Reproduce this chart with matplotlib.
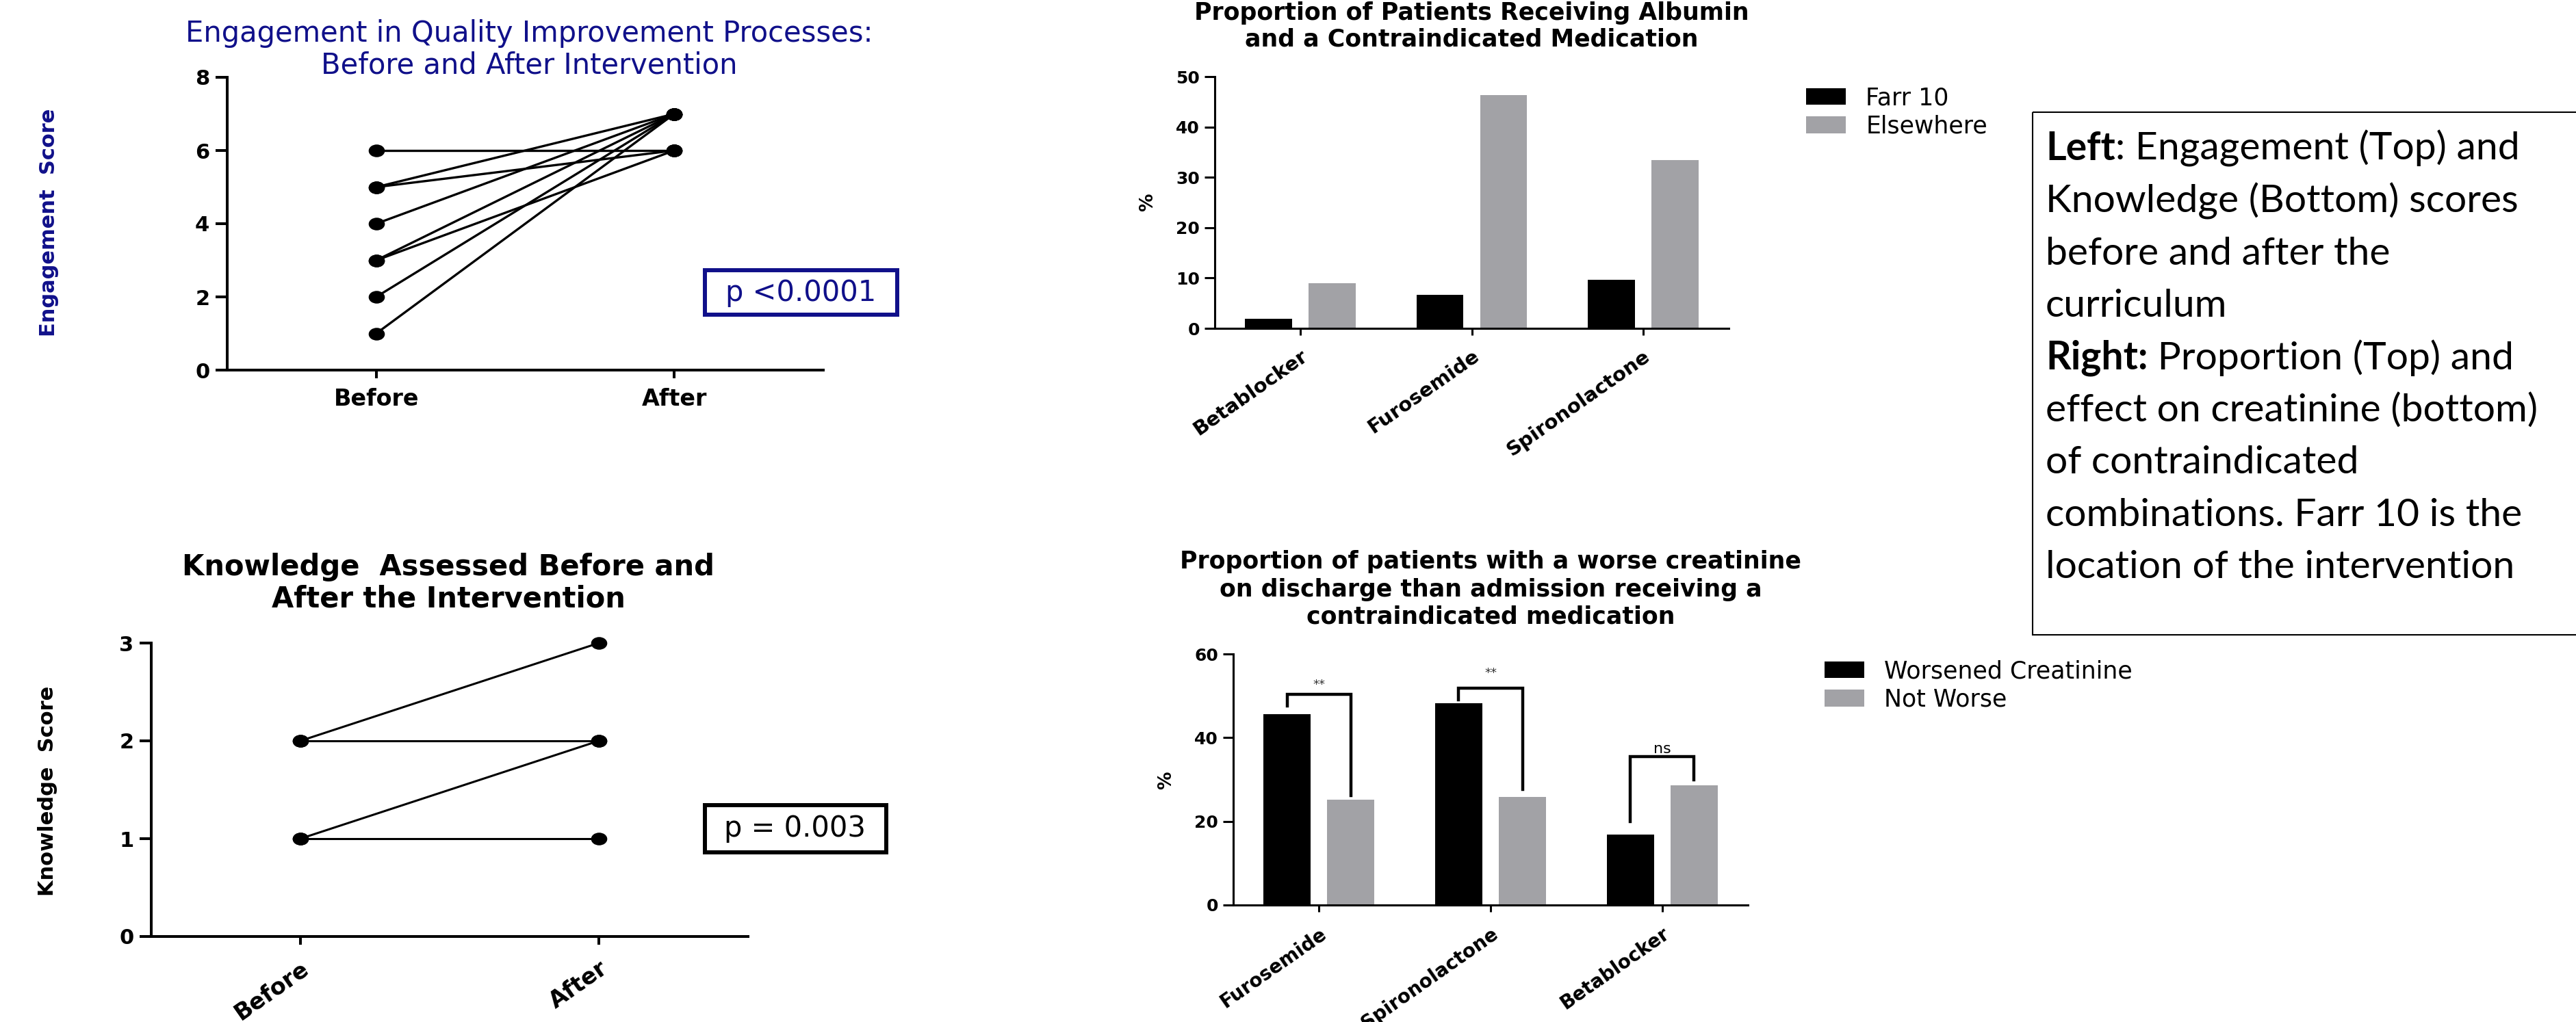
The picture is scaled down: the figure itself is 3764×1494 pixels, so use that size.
import numpy as np
import matplotlib
matplotlib.use('Agg')
import matplotlib.pyplot as plt
from matplotlib.patches import Rectangle
from matplotlib.path import Path
from matplotlib.transforms import Affine2D

W, H = 3764, 1494
DPI = 100
NAVY = '#10108a'
GREY = '#a2a2a6'

# engagement scores, one entry per participant
eng_groups = ['Before', 'After']
eng_before = [6, 5, 5, 4, 3, 3, 2, 1]
eng_after = [6, 7, 6, 7, 7, 6, 7, 7]

# knowledge scores
know_groups = ['Before', 'After']
know_before = [2, 2, 1, 1]
know_after = [3, 2, 2, 1]

# albumin + contraindicated medication (%)
alb_drugs = ['Betablocker', 'Furosemide', 'Spironolactone']
alb_farr10 = [1.9, 6.6, 9.6]
alb_elsewhere = [8.9, 46.3, 33.4]

# worse creatinine (%)
cr_drugs = ['Furosemide', 'Spironolactone', 'Betablocker']
cr_worse = [45.6, 48.2, 16.9]
cr_not_worse = [25.2, 25.8, 28.6]
# significance brackets
cr_sig_left = [47.5, 49.1, 19.9]
cr_sig_top = [50.3, 51.9, 35.5]
cr_sig_right = [26.1, 27.7, 29.9]
cr_sig_text_y = [52.7, 55.4, 37.2]
cr_sig_labels = ['**', '**', 'ns']

caption = [
    ('Left', ': Engagement (Top) and'),
    ('', 'Knowledge (Bottom) scores'),
    ('', 'before and after the'),
    ('', 'curriculum'),
    ('Right:', ' Proportion (Top) and'),
    ('', 'effect on creatinine (bottom)'),
    ('', 'of contraindicated'),
    ('', 'combinations. Farr 10 is the'),
    ('', 'location of the intervention'),
]

plt.rcParams['font.family'] = 'DejaVu Sans'

fig = plt.figure(figsize=(W / DPI, H / DPI), dpi=DPI)
fig.patch.set_facecolor('white')


def px_axes(left, top, right, bottom):
    return fig.add_axes([left / W, 1 - bottom / H, (right - left) / W, (bottom - top) / H])


def prism(ax, lw, ylen, xlen, ypad, xpad):
    ax.set_facecolor('none')
    ax.spines[['top', 'right']].set_visible(False)
    ax.spines[['left', 'bottom']].set_linewidth(lw)
    ax.tick_params(axis='y', length=ylen, width=lw, pad=ypad)
    ax.tick_params(axis='x', length=xlen, width=lw, pad=xpad)


# slightly wide dots, like the stretched originals
dot = Path.unit_circle().transformed(Affine2D().scale(1.3, 1.0))

# overlay in pixel coordinates for titles, boxes and the caption
ov = fig.add_axes([0, 0, 1, 1], zorder=10)
ov.set_xlim(0, W)
ov.set_ylim(H, 0)
ov.axis('off')


def title_lines(x, baselines, lines, **kw):
    for y, s in zip(baselines, lines):
        ov.text(x, y, s, ha='center', va='baseline', **kw)


# ---- engagement ----
ax1 = px_axes(332, 113, 1203, 541)
xp = np.arange(len(eng_groups))
for b, a in zip(eng_before, eng_after):
    ax1.plot(xp, [b, a], color='black', lw=2.4, marker=dot, ms=16, clip_on=False)
ax1.set_xlim(-0.5, 1.5)
ax1.set_ylim(0, 8)
ax1.set_yticks(range(0, 9, 2))
ax1.set_yticklabels([str(v) for v in range(0, 9, 2)], fontsize=22, fontweight='bold')
ax1.set_xticks(xp)
ax1.set_xticklabels(eng_groups, fontsize=24, fontweight='bold')
prism(ax1, 2.9, 12, 8.6, 6.5, 10)
title_lines(773, [61, 107], ['Engagement in Quality Improvement Processes:',
                             'Before and After Intervention'], fontsize=30, color=NAVY)
ov.text(72, 325, 'Engagement  Score', rotation=90, ha='center', va='center',
        fontsize=22, fontweight='bold', color=NAVY)
ov.add_patch(Rectangle((1030, 395), 281, 65, fill=False, ec=NAVY, lw=4.3))
ov.text(1170, 428, 'p <0.0001', ha='center', va='center', fontsize=30, color=NAVY)

# ---- knowledge ----
ax2 = px_axes(221, 940, 1093, 1369)
xp = np.arange(len(know_groups))
for b, a in zip(know_before, know_after):
    ax2.plot(xp, [b, a], color='black', lw=2.2, marker=dot, ms=16, clip_on=False)
ax2.set_xlim(-0.5, 1.5)
ax2.set_ylim(0, 3)
ax2.set_yticks(range(4))
ax2.set_yticklabels([str(v) for v in range(4)], fontsize=22, fontweight='bold')
ax2.set_xticks(xp)
ax2.set_xticklabels(know_groups, fontsize=24, fontweight='bold', rotation=35,
                    ha='right', va='top', rotation_mode='anchor')
prism(ax2, 2.9, 12, 8.6, 6.5, 13)
title_lines(655, [841, 888], ['Knowledge  Assessed Before and', 'After the Intervention'],
            fontsize=30, fontweight='bold')
ov.text(70, 1156, 'Knowledge  Score', rotation=90, ha='center', va='center',
        fontsize=22, fontweight='bold')
ov.add_patch(Rectangle((1030, 1177), 265, 69, fill=False, ec='black', lw=4.3))
ov.text(1162, 1211, 'p = 0.003', ha='center', va='center', fontsize=30)

off, bw = 0.1856, 0.275
leg_kw = dict(loc='upper left', bbox_transform=fig.transFigure, frameon=False, fontsize=25,
              borderpad=0, borderaxespad=0, handlelength=1.67, handleheight=0.69,
              handletextpad=0.84, labelspacing=0.22)

# ---- albumin ----
ax3 = px_axes(1775, 112, 2526, 480)
xp = np.arange(len(alb_drugs))
ax3.bar(xp - off, alb_farr10, bw, color='black', label='Farr 10')
ax3.bar(xp + off, alb_elsewhere, bw, color=GREY, label='Elsewhere')
ax3.set_xlim(-0.5, 2.5)
ax3.set_ylim(0, 50)
ax3.set_yticks(range(0, 51, 10))
ax3.set_yticklabels([str(v) for v in range(0, 51, 10)], fontsize=18, fontweight='bold')
ax3.set_xticks(xp)
ax3.set_xticklabels(alb_drugs, fontsize=21, fontweight='bold', rotation=35,
                    ha='right', va='top', rotation_mode='anchor')
prism(ax3, 2.2, 10.8, 7, 5, 12)
ax3.legend(bbox_to_anchor=(2639 / W, 1 - 126 / H), **leg_kw)
title_lines(2150, [29, 68], ['Proportion of Patients Receiving Albumin',
                             'and a Contraindicated Medication'], fontsize=25, fontweight='bold')
ov.text(1677, 296, '%', rotation=90, ha='center', va='center', fontsize=19, fontweight='bold')

# ---- creatinine ----
ax4 = px_axes(1802, 956, 2554, 1323)
xp = np.arange(len(cr_drugs))
ax4.bar(xp - off, cr_worse, bw, color='black', label='Worsened Creatinine')
ax4.bar(xp + off, cr_not_worse, bw, color=GREY, label='Not Worse')
for i in range(len(cr_drugs)):
    ax4.plot([i - off, i - off, i + off, i + off],
             [cr_sig_left[i], cr_sig_top[i], cr_sig_top[i], cr_sig_right[i]],
             color='black', lw=3.2, solid_joinstyle='miter')
    star = cr_sig_labels[i] == '**'
    ax4.text(i, cr_sig_text_y[i], cr_sig_labels[i], ha='center', va='center',
             fontsize=13 if star else 16, color='#333333' if star else 'black')
ax4.set_xlim(-0.5, 2.5)
ax4.set_ylim(0, 60)
ax4.set_yticks(range(0, 61, 20))
ax4.set_yticklabels([str(v) for v in range(0, 61, 20)], fontsize=18, fontweight='bold')
ax4.set_xticks(xp)
ax4.set_xticklabels(cr_drugs, fontsize=20, fontweight='bold', rotation=35,
                    ha='right', va='top', rotation_mode='anchor')
prism(ax4, 2.2, 10.8, 7, 5, 13)
ax4.legend(bbox_to_anchor=(2666 / W, 1 - 964 / H), **leg_kw)
title_lines(2178, [831, 872, 912], ['Proportion of patients with a worse creatinine',
                                    'on discharge than admission receiving a',
                                    'contraindicated medication'], fontsize=25, fontweight='bold')
ov.text(1704, 1141, '%', rotation=90, ha='center', va='center', fontsize=19, fontweight='bold')

# ---- caption box ----
ov.add_patch(Rectangle((2970, 164), 900, 764, fill=False, ec='black', lw=1.5))
for k, (bold, rest) in enumerate(caption):
    y = 234 + k * 76.4
    if bold:
        t = ov.text(2989, y, bold, fontsize=41, fontweight='bold', family='Lato', va='baseline')
        ov.annotate(rest, xy=(1, 0), xycoords=t, va='bottom', ha='left', fontsize=41, family='Lato')
    else:
        ov.text(2989, y, rest, fontsize=41, family='Lato', va='baseline')

fig.savefig('out.png', dpi=DPI)
